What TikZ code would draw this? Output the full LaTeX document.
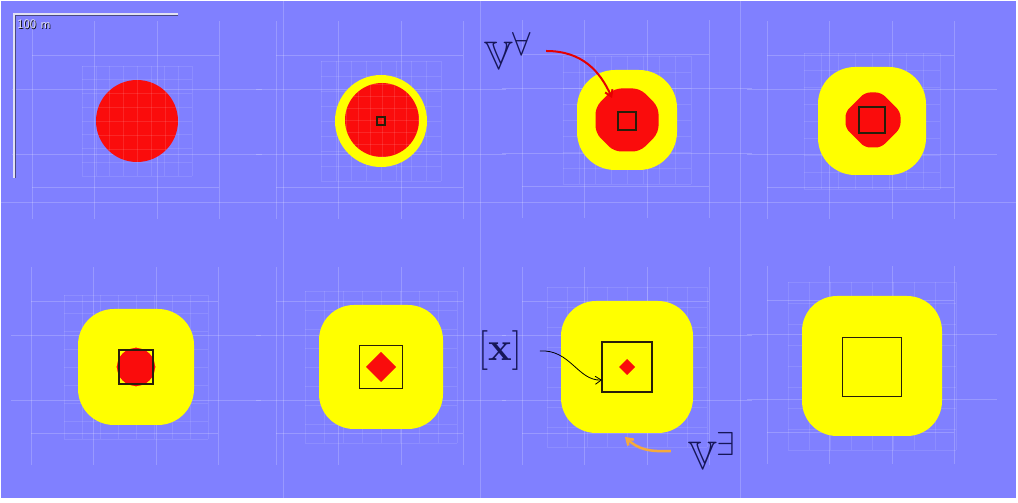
\documentclass[tikz,border=0pt]{standalone}
\usepackage{amssymb}
\usetikzlibrary{arrows.meta}
\definecolor{bg}{RGB}{128,128,255}
\definecolor{yel}{RGB}{255,255,0}
\definecolor{rd}{RGB}{250,12,12}
\definecolor{ink}{RGB}{22,22,88}
\definecolor{orng}{RGB}{245,170,60}
\definecolor{boxc}{RGB}{40,30,10}
\definecolor{barlight}{RGB}{225,225,242}
\definecolor{bardark}{RGB}{60,60,100}
\tikzset{
  gridl/.style={draw=white, draw opacity=0.2, line width=0.7pt},
  fineg/.style={draw=white, draw opacity=0.11, line width=0.5pt},
  sqbox/.style={draw=boxc, line width=1.3pt, minimum size=#1, inner sep=0pt, outer sep=0pt},
  lab/.style={text=ink, inner sep=0pt},
  arr/.style={-{Straight Barb[length=6pt,width=8pt]}},
}
\newcommand\biglab[1]{\scalebox{1.6}{\Huge$#1$}}
% local faint paving around a panel: centre x, centre y, half size of shape
\newcommand\pgrid[3]{%
  \foreach \dx in {-105,-43,20,82} {\draw[gridl] ({#1+\dx},{#2-98}) -- ({#1+\dx},{#2+100});}
  \foreach \dy in {-66,66} {\draw[gridl] ({#1-105},{#2+\dy}) -- ({#1+82},{#2+\dy});}
  \foreach \dy in {-33,32} {\draw[gridl] ({#1-125},{#2+\dy}) -- ({#1+125},{#2+\dy});}
  \foreach \k in {-4,...,4} {%
    \draw[fineg] ({#1+\k*(#3+14)/4},{#2-#3-14}) -- ({#1+\k*(#3+14)/4},{#2+#3+14});
    \draw[fineg] ({#1-#3-14},{#2+\k*(#3+14)/4}) -- ({#1+#3+14},{#2+\k*(#3+14)/4});
  }%
}
\newcommand\yelsq[4]{\fill[yel, rounded corners=#4] ({#1-#3},{#2-#3}) rectangle ({#1+#3},{#2+#3});}
% rounded octagon: centre x, centre y, long half a, short half b, rounding
\newcommand\redoct[5]{%
  \fill[rd, rounded corners=#5] ({#1+#3},{#2+#4}) -- ({#1+#4},{#2+#3}) -- ({#1-#4},{#2+#3}) -- ({#1-#3},{#2+#4})
    -- ({#1-#3},{#2-#4}) -- ({#1-#4},{#2-#3}) -- ({#1+#4},{#2-#3}) -- ({#1+#3},{#2-#4}) -- cycle;}
\begin{document}
\begin{tikzpicture}[x=1pt,y=1pt]
\useasboundingbox (0,0) rectangle (1018,503);
\fill[white] (0,0) rectangle (1018,503);
\fill[bg] (1,5) rectangle (1016,502);
% global paving lines
\draw[gridl] (283,5) -- (283,502);
\draw[gridl] (480,5) -- (480,502);
\draw[gridl] (740,5) -- (740,502);
\draw[gridl] (1,301) -- (1016,301);
% local pavings
\pgrid{137}{382}{41}
\pgrid{381}{382}{46}
\pgrid{627}{383}{50}
\pgrid{872}{382}{54}
\pgrid{136}{136}{58}
\pgrid{381}{136}{62}
\pgrid{627}{136}{66}
\pgrid{872}{137}{70}
% outer sets (yellow)
\fill[yel] (381,382) circle (46);
\yelsq{627}{383}{50}{38pt}
\yelsq{872}{382}{54}{37pt}
\yelsq{136}{136}{58}{36pt}
\yelsq{381}{136}{62}{35pt}
\yelsq{627}{136}{66}{35pt}
\yelsq{872}{137}{70}{35pt}
% inner sets (red)
\fill[rd] (137,382) circle (41);
\fill[rd] (382,383) circle (37);
\begin{scope}
  \clip (137,382) circle (41);
  \foreach \k in {-3,...,3} {\draw[fineg] ({137+\k*14},340) -- ({137+\k*14},424);
    \draw[fineg] (95,{382+\k*14}) -- (179,{382+\k*14});}
\end{scope}
\begin{scope}
  \clip (382,383) circle (37);
  \foreach \k in {-3,...,3} {\draw[fineg] ({382+\k*12},345) -- ({382+\k*12},421);
    \draw[fineg] (344,{383+\k*12}) -- (420,{383+\k*12});}
\end{scope}
\redoct{627}{383}{31.5}{13}{7pt}
\redoct{873}{383}{27.5}{8}{5pt}
\fill[rd] (136,136) circle (19);
\fill[rd, rounded corners=1pt] (156,136) -- (136,156) -- (116,136) -- (136,116) -- cycle;
\fill[rd] (396,136) -- (381,151) -- (366,136) -- (381,121) -- cycle;
\fill[rd] (635,136) -- (627,144) -- (619,136) -- (627,128) -- cycle;
% boxes [x]
\node[sqbox=8pt]  (sq2) at (381,382) {};
\node[sqbox=18pt] (sq3) at (627,382) {};
\node[sqbox=26pt] (sq4) at (872,383) {};
\node[sqbox=34pt] (sq5) at (136,136) {};
\node[sqbox=43pt] (sq6) at (381,136) {};
\node[sqbox=50pt] (sq7) at (627,136) {};
\node[sqbox=59pt] (sq8) at (872,136) {};
% scale bar
\draw[line width=3pt, draw=bardark, draw opacity=0.8] (178,488.5) -- (14.5,488.5) -- (14.5,325);
\draw[line width=1.6pt, draw=barlight] (178,489) -- (14,489) -- (14,325);
\node[anchor=west, inner sep=0pt, text=black, font=\sffamily\fontsize{13}{13}\selectfont] (scaleshadow) at (17.8,478.2) {100 m};
\node[anchor=west, inner sep=0pt, text=barlight, font=\sffamily\fontsize{13}{13}\selectfont] (scalelab) at (17,479) {100 m};
% labels
\node[lab] (Vall) at (508,452) {\biglab{\mathbb{V}^{\forall}}};
\node[lab] (xlab) at (500,152) {\biglab{[\mathbf{x}]}};
\node[lab] (Vex) at (712,52) {\biglab{\mathbb{V}^{\exists}}};
\coordinate (rtip) at (612,405);
\coordinate (otip) at (625,66);
% arrows
\draw[arr, draw=red!90!black, line width=2pt] ([xshift=14pt]Vall.east) .. controls (582,452) and (600,432) .. (rtip);
\draw[arr, draw=black, line width=0.8pt] ([xshift=18pt]xlab.east) .. controls (570,154) and (578,122) .. ([yshift=-13pt]sq7.west);
\draw[arr, draw=orng, line width=2.5pt] ([xshift=-17pt]Vex.west) .. controls (648,51) and (638,54) .. (otip);
\end{tikzpicture}
\end{document}
